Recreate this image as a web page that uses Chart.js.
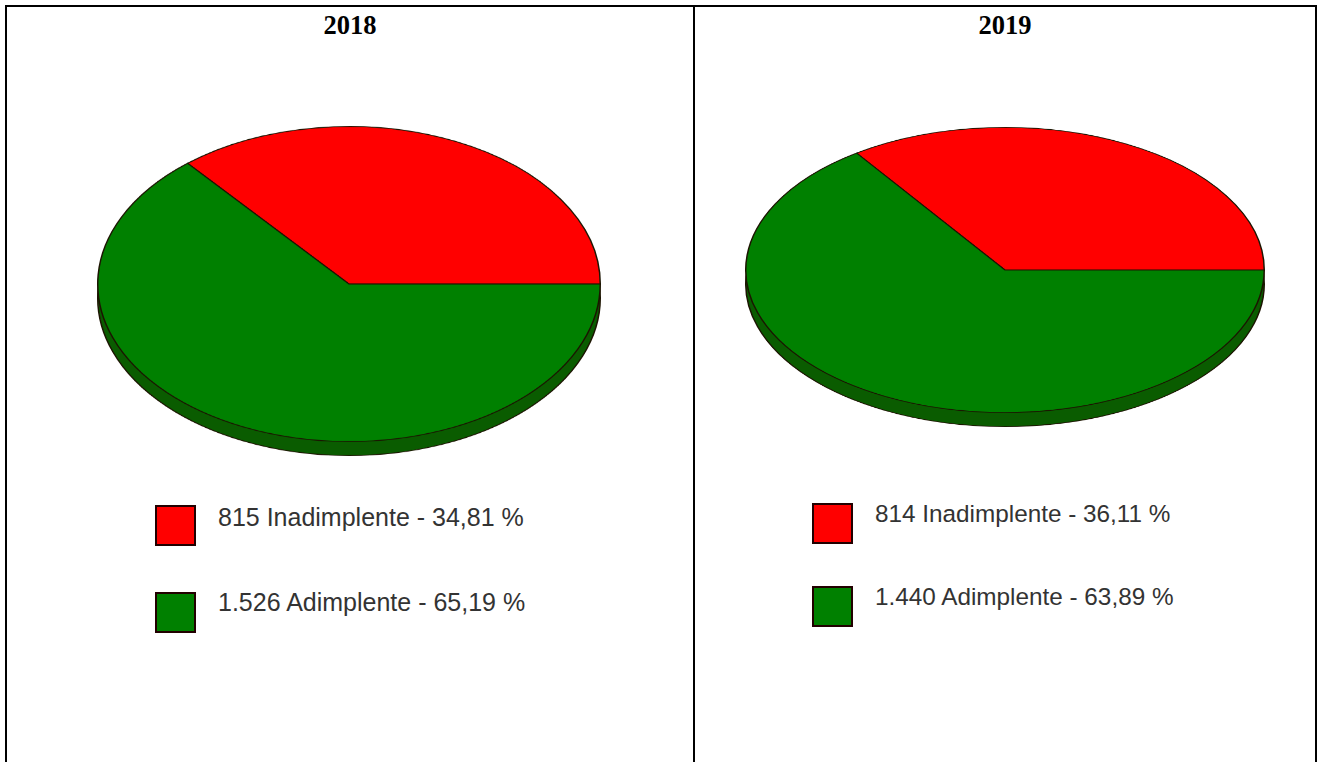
<!DOCTYPE html>
<html>
<head>
<meta charset="utf-8">
<title>Inadimplente x Adimplente</title>
<script src="https://cdn.jsdelivr.net/npm/chart.js@4"></script>
<style>
  html, body { margin: 0; padding: 0; background: #fff; overflow: hidden; }
  #page { position: relative; width: 1324px; height: 762px; }
  .line { position: absolute; background: #000; }
  .year { position: absolute; top: 9px; width: 120px; text-align: center; font: bold 26.5px/32px "Liberation Serif", serif; color: #000; }
  canvas { position: absolute; }
  .swatch { position: absolute; width: 37px; height: 37px; border: 2px solid #200; }
  .label { position: absolute; font-family: "Liberation Sans", sans-serif; color: #333; white-space: nowrap; }
</style>
</head>
<body>
<div id="page">
  <div class="line" style="left:5px;top:5px;width:1312px;height:2px"></div>
  <div class="line" style="left:5px;top:5px;width:2px;height:757px"></div>
  <div class="line" style="left:693px;top:5px;width:2px;height:757px"></div>
  <div class="line" style="left:1315px;top:5px;width:2px;height:757px"></div>
</div>
<script>
const categories = ["Inadimplente", "Adimplente"];
const colors = ["#ff0000", "#008000"];
const sideColor = "#0a5c00";

const years = ["2018", "2019"];

// counts and percents as printed next to each pie
const counts2018 = ["815", "1.526"];
const counts2019 = ["814", "1.440"];
const percents2018 = ["34,81", "65,19"];
const percents2019 = ["36,11", "63,89"];

// slices as they are drawn in the picture (measured off the ellipse, they don't follow the printed percents)
const slices2018 = [36.1, 63.9];
const slices2019 = [34.7, 65.3];

const page = document.getElementById("page");

function addPie(values, fill, cx, cy, rx, ry) {
  const canvas = document.createElement("canvas");
  const size = rx * 2 + 2;
  canvas.width = size;
  canvas.height = size;
  canvas.style.left = (cx - rx - 1) + "px";
  canvas.style.top = (cy - rx - 1) + "px";
  page.appendChild(canvas);

  new Chart(canvas, {
    type: "pie",
    data: {
      labels: categories,
      datasets: [{
        data: values,
        backgroundColor: fill,
        borderColor: "#1c1400",
        borderWidth: 1.5
      }]
    },
    options: {
      responsive: false,
      animation: false,
      rotation: 90 - values[0] * 3.6,
      layout: { padding: 1 },
      plugins: { legend: { display: false }, tooltip: { enabled: false } }
    }
  });

  // the tilted look: squash the round pie into an ellipse
  canvas.style.transformOrigin = "center center";
  canvas.style.transform = "scaleY(" + ry / rx + ")";
}

function addPanel(p) {
  const title = document.createElement("div");
  title.className = "year";
  title.innerText = p.year;
  title.style.left = (p.titleX - 60) + "px";
  page.appendChild(title);

  // side of the disc first, then the top on it
  addPie(p.slices, [sideColor, sideColor], p.cx, p.cy + 14, p.rx, p.ry);
  addPie(p.slices, colors, p.cx, p.cy, p.rx, p.ry);

  categories.forEach((name, i) => {
    const sw = document.createElement("div");
    sw.className = "swatch";
    sw.style.left = p.swatchX + "px";
    sw.style.top = p.swatchY[i] + "px";
    sw.style.background = colors[i];
    page.appendChild(sw);

    const text = document.createElement("div");
    text.className = "label";
    text.innerText = p.counts[i] + " " + name + " - " + p.percents[i] + " %";
    text.style.left = p.textX + "px";
    text.style.top = p.textY[i] + "px";
    text.style.fontSize = p.fontSize + "px";
    text.style.lineHeight = "30px";
    page.appendChild(text);
  });
}

addPanel({
  year: years[0], titleX: 350, slices: slices2018, counts: counts2018, percents: percents2018,
  cx: 349, cy: 284, rx: 252, ry: 158,
  swatchX: 155, swatchY: [505, 592], textX: 218, textY: [502, 587], fontSize: 25
});
addPanel({
  year: years[1], titleX: 1005, slices: slices2019, counts: counts2019, percents: percents2019,
  cx: 1005, cy: 270, rx: 260, ry: 143,
  swatchX: 812, swatchY: [503, 586], textX: 875, textY: [499, 582], fontSize: 24.3
});
</script>
</body>
</html>
